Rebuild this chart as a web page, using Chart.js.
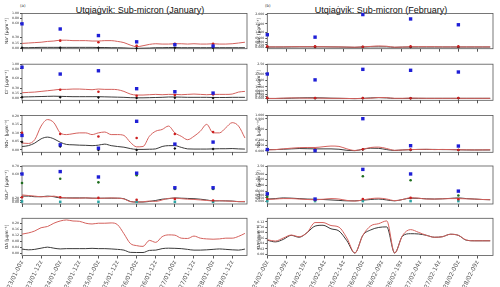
<!DOCTYPE html>
<html>
<head>
<meta charset="utf-8">
<script src="https://cdn.jsdelivr.net/npm/chart.js@4.4.1/dist/chart.umd.min.js"></script>
<style>
  body { margin: 0; width: 500px; height: 287px; background: #fff; position: relative; overflow: hidden; }
  canvas { position: absolute; }
  .title { position: absolute; font-family: 'Liberation Sans', sans-serif; font-size: 9px; line-height: 9px;
           white-space: nowrap; transform: translateX(-50%); color: #111; }
  .tag { position: absolute; font-family: 'DejaVu Sans', sans-serif; font-size: 4px; color: #333; }
</style>
</head>
<body>
<div class="tag" style="left:20px;top:3px">(a)</div>
<div class="tag" style="left:265px;top:3px">(b)</div>
<div class="title" style="left:140px;top:6px">Utqiaġvik: Sub-micron (January)</div>
<div class="title" style="left:381px;top:6px">Utqiaġvik: Sub-micron (February)</div>
<script>
// ---- time axes ----
const janHours = [0,4,8,12,16,20,24,28,32,36,40,44,48,52,56,60,64,68,72,76,80,84,88,92,96,100,104,108,112,116,120,124,128,132,136,140];
const febHours = [0,4,8,12,16,20,24,28,32,36,40,44,48,52,56,60,64,68,72,76,80,84,88,92,96,100,104,108,112];
const janDays = [0,24,48,72,96,120];
const febDays = [0,24,48,72,96];
const janTickHours = [0,12,24,36,48,60,72,84,96,108,120,132];
const febTickHours = [0,9.6,19.2,28.8,38.4,48,57.6,67.2,76.8,86.4,96,105.6];
const janTickLabels = ['23/01-00z','23/01-12z','24/01-00z','24/01-12z','25/01-00z','25/01-12z','26/01-00z','26/01-12z','27/01-00z','27/01-12z','28/01-00z','28/01-12z'];
const febTickLabels = ['24/02-00z','24/02-09z','24/02-19z','25/02-04z','25/02-14z','26/02-00z','26/02-09z','26/02-19z','27/02-04z','27/02-14z','28/02-00z','28/02-09z'];

// ---- January ----
const naJanRedLine = [.15,.16,.17,.18,.2,.21,.23,.23,.22,.22,.22,.21,.21,.22,.22,.2,.17,.1,.05,.08,.12,.14,.13,.13,.14,.14,.13,.14,.13,.13,.14,.13,.13,.14,.16,.18];
const naJanBlackLine = [.02,.02,.025,.03,.03,.03,.03,.03,.03,.03,.03,.03,.025,.025,.02,.02,.015,.005,0,.005,.01,.02,.02,.025,.025,.02,.02,.02,.02,.02,.02,.02,.02,.02,.02,.02];
const naJanBlue = [.59,.48,.34,.19,.11,.07];
const naJanRed = [null,.22,.18,.08,.14,.14];
const naJanBlack = [.02,.02,.02,0,.02,.02];

const clJanRedLine = [.16,.17,.18,.2,.22,.24,.26,.26,.27,.27,.26,.25,.27,.26,.26,.25,.2,.12,.09,.09,.1,.11,.1,.11,.11,.1,.11,.12,.11,.1,.11,.11,.11,.12,.18,.2];
const clJanBlackLine = [.03,.035,.04,.045,.05,.055,.05,.045,.04,.04,.04,.04,.04,.035,.03,.025,.02,.01,.005,.005,.01,.015,.02,.03,.03,.025,.02,.02,.02,.02,.015,.015,.015,.02,.02,.02];
const clJanBlue = [.87,.69,.76,.28,.19,.15];
const clJanRed = [null,.25,.19,.07,.09,.11];
const clJanBlack = [.02,.02,.015,0,.005,0];

const no3JanRedLine = [.04,.038,.06,.14,.178,.16,.1,.09,.095,.1,.1,.09,.1,.105,.09,.09,.085,.045,.018,.02,.08,.11,.12,.14,.1,.08,.06,.08,.11,.15,.1,.1,.13,.16,.14,.07];
const no3JanBlackLine = [.02,.025,.04,.065,.075,.065,.045,.032,.03,.028,.027,.025,.028,.034,.025,.02,.016,.008,.003,.003,.004,.006,.02,.025,.025,.015,.006,.005,.005,.005,.006,.007,.007,.008,.006,.005];
const no3JanBlue = [.085,.03,.01,.168,.034,.046];
const no3JanRed = [.1,.093,.079,.07,.093,.105];
const no3JanBlack = [.046,.02,0,0,.008,.005];

const so4JanRedLine = [.25,.24,.23,.22,.22,.23,.21,.2,.19,.19,.2,.19,.18,.19,.2,.19,.16,.04,.02,.03,.07,.05,.12,.18,.19,.17,.15,.14,.12,.1,.08,.09,.07,.06,.04,.05];
const so4JanBlackLine = [.23,.23,.22,.22,.23,.22,.2,.2,.2,.2,.2,.19,.19,.19,.19,.19,.17,.05,.02,.02,.05,.1,.15,.17,.2,.19,.18,.17,.15,.12,.08,.08,.08,.07,.04,.03];
const so4JanBlue = [.6,.63,.55,.61,.37,.37];
const so4JanGreen = [.45,.52,.46,.58,.35,.35];
const so4JanRed = [.21,.21,.2,.125,.16,.1];
const so4JanCyan = [.05,.03,.03,.03,.03,.03];

const oaJanRedLine = [.127,.135,.148,.17,.178,.2,.215,.222,.215,.213,.2,.195,.2,.2,.202,.19,.13,.065,.05,.045,.085,.072,.11,.122,.12,.1,.098,.114,.1,.095,.093,.095,.1,.1,.112,.132];
const oaJanBlackLine = [.027,.022,.025,.033,.04,.033,.028,.03,.03,.03,.03,.032,.03,.03,.028,.025,.02,.005,.004,.004,.018,.02,.03,.033,.032,.03,.025,.02,.02,.022,.025,.028,.025,.022,.02,.027];

// ---- February ----
const naFebRedLine = [.03,.03,.03,.04,.04,.04,.04,.04,.03,.03,.02,.01,.03,.06,.09,.07,.01,.02,.04,.04,.04,.04,.03,.03,.03,.03,.03,.03,.03];
const naFebBlackLine = [.02,.02,.02,.025,.03,.03,.03,.03,.025,.02,.01,0,.02,.03,.03,.03,0,.015,.02,.02,.02,.02,.02,.02,.02,.02,.02,.02,.02];
const naFebBlue = [.84,.67,2.0,1.76,1.44];
const naFebRed = [.06,.06,.04,.06,.06];
const naFebBlack = [.02,.02,.02,.02,.02];

const clFebRedLine = [.01,.01,.03,.05,.04,.03,.03,.03,.02,.02,.01,0,.01,.03,.08,.07,.02,.02,.04,.03,.02,.02,.02,.02,.02,.02,.02,.02,.02];
const clFebBlackLine = [.01,.01,.02,.03,.05,.06,.06,.05,.03,.02,.01,0,.02,.05,.07,.05,.01,.01,.02,.02,.02,.02,.02,.02,.02,.02,.02,.02,.02];
const clFebBlue = [1.98,1.55,2.23,2.18,2.09];
const clFebRed = [.05,.04,.04,.03,.04];
const clFebBlack = [.02,.02,.02,.02,.02];

const no3FebRedLine = [.02,.03,.05,.07,.085,.09,.09,.11,.13,.12,.05,.005,.04,.09,.1,.06,.01,.02,.03,.035,.04,.03,.035,.03,.025,.025,.02,.022,.025];
const no3FebBlackLine = [.03,.03,.04,.05,.06,.055,.05,.05,.05,.04,.01,0,.04,.07,.065,.03,.005,.02,.03,.035,.035,.035,.03,.03,.025,.02,.02,.02,.02];
const no3FebBlue = [.03,0,.9,.14,.13];
const no3FebRed = [.04,.03,.04,.03,.02];
const no3FebBlack = [.02,.02,.03,.02,.02];

const so4FebRedLine = [.08,.1,.12,.12,.1,.08,.07,.09,.12,.1,.04,.01,.06,.12,.14,.1,.03,.08,.16,.14,.1,.1,.11,.12,.12,.11,.1,.08,.07];
const so4FebBlackLine = [.1,.12,.15,.14,.12,.1,.09,.08,.06,.04,.02,.02,.05,.08,.1,.06,.02,.08,.14,.13,.11,.1,.11,.13,.15,.12,.1,.08,.07];
const so4FebBlue = [.4,.1,2.3,2.03,.6];
const so4FebGreen = [.22,null,1.83,1.44,.28];
const so4FebRed = [.1,.06,.1,.15,.09];
const so4FebCyan = [.01,.01,.01,.01,.01];

const oaFebRedLine = [.054,.049,.06,.071,.065,.08,.117,.117,.106,.1,.06,.005,.07,.105,.113,.123,.005,.07,.091,.081,.07,.063,.065,.074,.07,.053,.05,.05,.05];
const oaFebBlackLine = [.052,.046,.055,.07,.063,.08,.104,.107,.094,.086,.05,.005,.07,.09,.099,.101,.005,.068,.076,.075,.07,.063,.065,.074,.07,.052,.05,.05,.05];

// ---- y tick values / labels ----
const ionTicksJan = [0,.15,.3,.6,.8,1];
const ionLabelsJan = ['0.00','0.15','0.30','0.60','0.80','1.00'];
const no3TicksJan = [0,.05,.1,.15,.2];
const no3LabelsJan = ['0.00','0.05','0.10','0.15','0.20'];
const so4TicksJan = [0,.1,.2,.6,.7];
const so4LabelsJan = ['0.00','0.10','0.20','0.60','0.70'];
const oaTicksJan = [0,.04,.08,.12,.16,.2];
const oaLabelsJan = ['0.00','0.04','0.08','0.12','0.16','0.20'];
const naTicksFeb = [0,.15,.3,.6,1,1.5,2];
const naLabelsFeb = ['0.000','0.150','0.300','0.600','1.000','1.500','2.000'];
const bigTicksFeb = [0,.15,.3,.6,1,1.5,2,2.5];
const bigLabelsFeb = ['0.000','0.150','0.300','0.600','1.000','1.500','2.000','2.50'];
const no3TicksFeb = [0,.15,.3,.6,.9,1];
const no3LabelsFeb = ['0.000','0.150','0.300','0.600','0.900','1.000'];
const oaTicksFeb = [0,.02,.04,.06,.08,.1,.12];
const oaLabelsFeb = ['0.00','0.02','0.04','0.06','0.08','0.10','0.12'];

// broken (piecewise linear) axis
class PiecewiseScale extends Chart.LinearScale {
  static id = 'piecewise';
  static defaults = Chart.LinearScale.defaults;
  getPixelForValue(v) {
    const b = this._breaks;
    if (!b || v === null || v === undefined || isNaN(v)) return super.getPixelForValue(v);
    let i = 1;
    while (i < b.length - 1 && v > b[i][0]) i++;
    const [v0, f0] = b[i - 1], [v1, f1] = b[i];
    return this.getPixelForDecimal(f0 + (v - v0) * (f1 - f0) / (v1 - v0));
  }
}
Chart.register(PiecewiseScale);
Chart.defaults.font.family = 'DejaVu Sans';

const frame = {
  id: 'frame',
  beforeDatasetsDraw(c) {
    const { ctx, chartArea: a } = c;
    ctx.save();
    ctx.strokeStyle = '#555';
    ctx.lineWidth = 0.8;
    ctx.strokeRect(a.left, a.top, a.right - a.left, a.bottom - a.top);
    ctx.restore();
  }
};

const cols = [
  { left: 0, width: 256, yW: 22, padR: 9, xMax: 141.3, hours: janHours, days: janDays, tickH: janTickHours, tickL: janTickLabels, titlePad: 4.5 },
  { left: 250, width: 250, yW: 17.3, padR: 7, xMax: 113.4, hours: febHours, days: febDays, tickH: febTickHours, tickL: febTickLabels, titlePad: 6 }
];
const rows = [[13.5, 48.7], [64.2, 100.3], [115.5, 152.3], [166, 204], [218.3, 255.5]];

const BLUE = '#1f1fd6', RED = '#cc1f1f', BLACK = '#111', GREEN = '#1e6e1e', CYAN = '#2aa5a5';
const RED_LINE = '#d4615d', BLACK_LINE = '#3a3a3a';

function pts(days, vals, color, style, r) {
  return { type: 'scatter', data: days.map((h, i) => ({ x: h, y: vals[i] })), pointStyle: style,
    pointRadius: r, backgroundColor: color, borderColor: color, borderWidth: 0, clip: false, showLine: false };
}
function line(hours, vals, color) {
  return { type: 'line', data: hours.map((h, i) => ({ x: h, y: vals[i] })), borderColor: color,
    borderWidth: 1, pointRadius: 0, cubicInterpolationMode: 'monotone', fill: false };
}

function panel(ci, ri, p) {
  const col = cols[ci], [rt, rb] = rows[ri];
  const top = Math.floor(rt) - 4;
  const bottom = ri < 4 ? Math.ceil(rb) + 5 : 287;
  const h = bottom - top;
  const cv = document.createElement('canvas');
  cv.width = col.width; cv.height = h;
  cv.style.left = col.left + 'px'; cv.style.top = top + 'px';
  cv.style.width = col.width + 'px'; cv.style.height = h + 'px';
  document.body.appendChild(cv);

  const d = col.days;
  const ds = [];
  if (p.blue) ds.push(pts(d, p.blue, BLUE, 'rect', 2.4));
  if (p.green) ds.push(pts(d, p.green, GREEN, 'circle', 1.3));
  if (p.red) ds.push(pts(d, p.red, RED, 'circle', 1.3));
  if (p.black) ds.push(pts(d, p.black, BLACK, 'rectRot', 1.5));
  if (p.cyan) ds.push(pts(d, p.cyan, CYAN, 'rect', 1.8));
  ds.push(line(col.hours, p.redLine, RED_LINE));
  ds.push(line(col.hours, p.blackLine, BLACK_LINE));

  const y = {
    type: p.breaks ? 'piecewise' : 'linear',
    min: p.breaks ? p.breaks[0][0] : p.min,
    max: p.breaks ? p.breaks[p.breaks.length - 1][0] : p.max,
    afterDataLimits: s => { s._breaks = p.breaks; },
    afterBuildTicks: s => { s.ticks = p.ticks.map(v => ({ value: v })); },
    ticks: { autoSkip: false, callback: (v, i) => p.labels[i], font: { size: 3.2 }, color: '#333', padding: 1 },
    grid: { drawOnChartArea: false, tickLength: 2, color: '#555' },
    border: { display: false },
    title: { display: true, text: p.title, font: { size: 4.2 }, color: '#222', padding: { top: col.titlePad, bottom: 0 } },
    afterFit: s => { s.width = col.yW; }
  };
  const x = {
    type: 'linear', min: 0, max: col.xMax,
    afterBuildTicks: s => { s.ticks = col.tickH.map(v => ({ value: v })); },
    ticks: { display: ri === 4, autoSkip: false, minRotation: 64, maxRotation: 64,
      callback: (v, i) => col.tickL[i], font: { size: 6 }, color: '#555', padding: 1 },
    grid: { drawOnChartArea: false, tickLength: 3, color: '#555' },
    border: { display: false },
    afterFit: s => { s.height = bottom - rb; }
  };

  new Chart(cv, {
    type: 'line',
    data: { datasets: ds },
    options: {
      responsive: false, animation: false, devicePixelRatio: 1,
      layout: { padding: { top: rt - top, left: 0, right: col.padR, bottom: 0 } },
      plugins: { legend: { display: false }, tooltip: { enabled: false } },
      scales: { x, y }
    },
    plugins: [frame]
  });
}

// January column
panel(0, 0, { title: 'Na⁺ [μgm⁻³]', ticks: ionTicksJan, labels: ionLabelsJan,
  breaks: [[0, .01], [.15, .15], [.3, .32], [.6, .72], [.8, .86], [1, 1]],
  blue: naJanBlue, red: naJanRed, black: naJanBlack, redLine: naJanRedLine, blackLine: naJanBlackLine });
panel(0, 1, { title: 'Cl⁻ [μgm⁻³]', ticks: ionTicksJan, labels: ionLabelsJan,
  breaks: [[0, .064], [.15, .2], [.3, .34], [.6, .61], [.8, .87], [1, 1]],
  blue: clJanBlue, red: clJanRed, black: clJanBlack, redLine: clJanRedLine, blackLine: clJanBlackLine });
panel(0, 2, { title: 'NO₃⁻ [μgm⁻³]', ticks: no3TicksJan, labels: no3LabelsJan, min: -0.014, max: 0.202,
  blue: no3JanBlue, red: no3JanRed, black: no3JanBlack, redLine: no3JanRedLine, blackLine: no3JanBlackLine });
panel(0, 3, { title: 'SO₄²⁻ [μgm⁻³]', ticks: so4TicksJan, labels: so4LabelsJan,
  breaks: [[0, .042], [.1, .093], [.2, .16], [.6, .79], [.7, 1]],
  blue: so4JanBlue, green: so4JanGreen, red: so4JanRed, cyan: so4JanCyan, redLine: so4JanRedLine, blackLine: so4JanBlackLine });
panel(0, 4, { title: 'OA [μgm⁻³]', ticks: oaTicksJan, labels: oaLabelsJan, min: -0.016, max: 0.233,
  redLine: oaJanRedLine, blackLine: oaJanBlackLine });

// February column
panel(1, 0, { title: 'Na⁺ [μgm⁻³]', ticks: naTicksFeb, labels: naLabelsFeb,
  breaks: [[0, .038], [.15, .106], [.3, .173], [.6, .3], [1, .46], [1.5, .71], [2, .97], [2.06, 1]],
  blue: naFebBlue, red: naFebRed, black: naFebBlack, redLine: naFebRedLine, blackLine: naFebBlackLine });
panel(1, 1, { title: 'Cl⁻ [μgm⁻³]', ticks: bigTicksFeb, labels: bigLabelsFeb,
  breaks: [[0, .047], [.15, .104], [.3, .17], [.6, .264], [1, .377], [1.5, .547], [2, .736], [2.5, 1]],
  blue: clFebBlue, red: clFebRed, black: clFebBlack, redLine: clFebRedLine, blackLine: clFebBlackLine });
panel(1, 2, { title: 'NO₃⁻ [μgm⁻³]', ticks: no3TicksFeb, labels: no3LabelsFeb, min: -0.046, max: 0.99,
  blue: no3FebBlue, red: no3FebRed, black: no3FebBlack, redLine: no3FebRedLine, blackLine: no3FebBlackLine });
panel(1, 3, { title: 'SO₄²⁻ [μgm⁻³]', ticks: bigTicksFeb, labels: bigLabelsFeb,
  breaks: [[0, .071], [.15, .16], [.3, .232], [.6, .339], [1, .49], [1.5, .643], [2, .777], [2.5, 1]],
  blue: so4FebBlue, green: so4FebGreen, red: so4FebRed, cyan: so4FebCyan, redLine: so4FebRedLine, blackLine: so4FebBlackLine });
panel(1, 4, { title: 'OA [μgm⁻³]', ticks: oaTicksFeb, labels: oaLabelsFeb, min: -0.004, max: 0.1326,
  redLine: oaFebRedLine, blackLine: oaFebBlackLine });
</script>
</body>
</html>
